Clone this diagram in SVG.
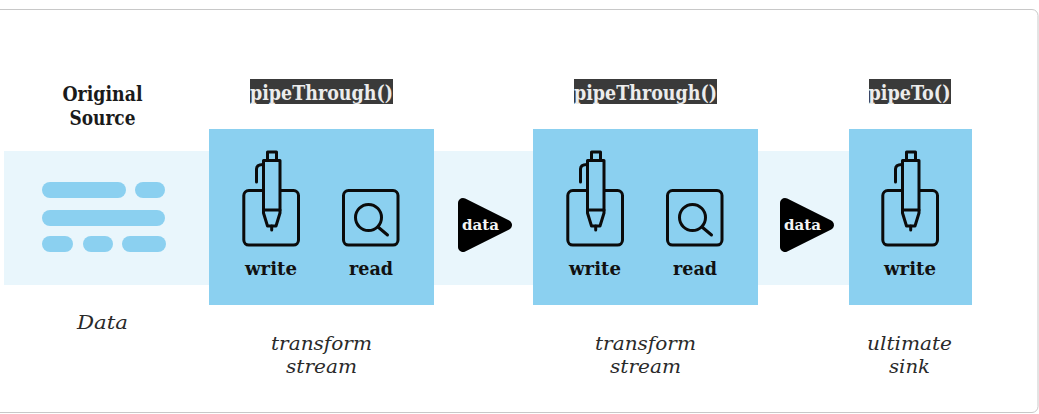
<svg xmlns="http://www.w3.org/2000/svg" width="1039" height="414" viewBox="0 0 1039 414">
<style>
text{font-family:"DejaVu Serif","Liberation Serif",serif;text-anchor:middle}
.b{font-weight:700;fill:#1a1a1a}
.h{font-size:20px}
.l{font-size:19px;font-weight:700;fill:#111}
.c{font-size:20px;font-weight:700;fill:#ececec}
.i{font-size:19.400px;font-style:italic;fill:#2a2a2a}
.d{font-size:15.500px;font-weight:700;fill:#f4f4f4}
.panel{fill:#8bd0f0}
.band{fill:#e9f6fc}
.bar{fill:#8bd0f0}
.ln{fill:none;stroke:#0b0b0b;stroke-width:3;stroke-linejoin:round;stroke-linecap:round}
.pen{fill:#8bd0f0;stroke:#0b0b0b;stroke-width:3;stroke-linejoin:round;stroke-linecap:round}
.tag{fill:#3a3a3a}
.tri{fill:#000;stroke:#000;stroke-width:10;stroke-linejoin:round}
</style>
<defs>
<g id="write-icon">
<rect class="ln" x="243.800" y="190.600" width="54.700" height="54.500" rx="5"/>
<path class="pen" d="M263.500 160.500H280V213L276 226H267.500L263.500 213Z"/>
<path class="ln" d="M263.500 210H280M267.500 160V152H276.500V160M271.700 226V230M256.500 182V169Q256.500 164.500 263 164.500"/>
</g>
<g id="read-icon">
<rect class="ln" x="343.500" y="190.600" width="54.500" height="54.500" rx="5"/>
<circle class="ln" cx="368.500" cy="217.500" r="13"/>
<path class="ln" d="M378 227L387.500 235"/>
</g>
<polygon id="play" class="tri" points="463,203 507,225 463,247"/>
</defs>
<rect x="-10" y="9.500" width="1048" height="403" rx="6" fill="#fff" stroke="#c8c8c8" stroke-width="1"/>
<g id="connectors">
<rect class="band" x="4" y="151" width="845" height="134"/>
</g>
<g id="source">
<text class="b h"><tspan x="102.500" y="100.500" textLength="80" lengthAdjust="spacingAndGlyphs">Original</tspan><tspan x="102.500" y="124.500" textLength="66" lengthAdjust="spacingAndGlyphs">Source</tspan></text>
<rect class="bar" x="42" y="182" width="84" height="16" rx="8"/>
<rect class="bar" x="135" y="182" width="30" height="16" rx="8"/>
<rect class="bar" x="42" y="210" width="123" height="16" rx="8"/>
<rect class="bar" x="42" y="236" width="31" height="16" rx="8"/>
<rect class="bar" x="83" y="236" width="30" height="16" rx="8"/>
<rect class="bar" x="122" y="236" width="44" height="16" rx="8"/>
<text class="i" x="102.500" y="329" textLength="51" lengthAdjust="spacingAndGlyphs">Data</text>
</g>
<g id="transform1">
<rect class="tag" x="250" y="79" width="143" height="25"/>
<text class="c" x="321.500" y="99.500" textLength="143" lengthAdjust="spacingAndGlyphs">pipeThrough()</text>
<rect class="panel" x="209" y="129" width="225" height="176"/>
<use href="#write-icon"/>
<use href="#read-icon"/>
<text class="l" x="271" y="274.500" textLength="52" lengthAdjust="spacingAndGlyphs">write</text>
<text class="l" x="371" y="274.500" textLength="44" lengthAdjust="spacingAndGlyphs">read</text>
<text class="i"><tspan x="321.500" y="349.500" textLength="101" lengthAdjust="spacingAndGlyphs">transform</tspan><tspan x="321.500" y="372.500" textLength="71" lengthAdjust="spacingAndGlyphs">stream</tspan></text>
</g>
<g id="data1">
<use href="#play"/>
<text class="d" x="480.500" y="230" textLength="37" lengthAdjust="spacingAndGlyphs">data</text>
</g>
<g id="transform2">
<rect class="tag" x="574" y="79" width="143" height="25"/>
<text class="c" x="645.500" y="99.500" textLength="143" lengthAdjust="spacingAndGlyphs">pipeThrough()</text>
<rect class="panel" x="533" y="129" width="225" height="176"/>
<use href="#write-icon" x="324"/>
<use href="#read-icon" x="324"/>
<text class="l" x="595" y="274.500" textLength="52" lengthAdjust="spacingAndGlyphs">write</text>
<text class="l" x="695" y="274.500" textLength="44" lengthAdjust="spacingAndGlyphs">read</text>
<text class="i"><tspan x="645.500" y="349.500" textLength="101" lengthAdjust="spacingAndGlyphs">transform</tspan><tspan x="645.500" y="372.500" textLength="71" lengthAdjust="spacingAndGlyphs">stream</tspan></text>
</g>
<g id="data2">
<use href="#play" x="322"/>
<text class="d" x="802.500" y="230" textLength="37" lengthAdjust="spacingAndGlyphs">data</text>
</g>
<g id="sink">
<rect class="tag" x="869" y="79" width="82" height="25"/>
<text class="c" x="909.500" y="99.500" textLength="82" lengthAdjust="spacingAndGlyphs">pipeTo()</text>
<rect class="panel" x="849" y="129" width="123" height="176"/>
<use href="#write-icon" x="639"/>
<text class="l" x="910" y="274.500" textLength="52" lengthAdjust="spacingAndGlyphs">write</text>
<text class="i"><tspan x="909.500" y="349.500" textLength="85" lengthAdjust="spacingAndGlyphs">ultimate</tspan><tspan x="909.500" y="372.500" textLength="41" lengthAdjust="spacingAndGlyphs">sink</tspan></text>
</g>
</svg>
